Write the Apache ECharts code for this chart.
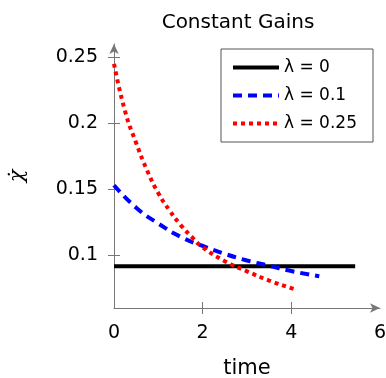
<!DOCTYPE html>
<html>
<head>
<meta charset="utf-8">
<script src="https://cdn.jsdelivr.net/npm/echarts@6/dist/echarts.min.js"></script>
<style>
  html, body { margin: 0; padding: 0; background: #fff; }
  #main { width: 386px; height: 378px; }
</style>
</head>
<body>
<div id="main"></div>
<script>
// values
var xTicks = [0, 2, 4, 6];
var yTicks = [0.1, 0.15, 0.2, 0.25];
var names = ['λ = 0', 'λ = 0.1', 'λ = 0.25'];

var gain0 = [[0, 0.0917], [5.44, 0.0917]];
var gain01 = [[0, 0.153], [0.5, 0.136], [1, 0.124], [1.5, 0.114], [2, 0.107], [2.5, 0.101],
  [3, 0.096], [3.5, 0.092], [4, 0.088], [4.63, 0.084]];
var gain025 = [[0, 0.245], [0.25, 0.209], [0.5, 0.185], [0.75, 0.164], [1, 0.147], [1.25, 0.134],
  [1.5, 0.123], [1.75, 0.114], [2, 0.106], [2.5, 0.0955], [3, 0.0878], [3.5, 0.0808], [4, 0.075], [4.09, 0.074]];

var font = 'DejaVu Sans';
var axisGray = '#777';

var chart = echarts.init(document.getElementById('main'));

var option = {
  animation: false,
  textStyle: { fontFamily: font },
  title: {
    text: 'Constant Gains',
    left: 233, top: 8, textAlign: 'center',
    textStyle: { fontFamily: font, fontSize: 20, fontWeight: 'normal', color: '#000' }
  },
  grid: { left: 114, right: 6, top: 44, bottom: 70, outerBoundsMode: 'none', containLabel: false },
  legend: {
    data: names,
    orient: 'vertical',
    left: 221, top: 49,
    padding: [10, 10, 10, 10],
    itemWidth: 46, itemHeight: 16, itemGap: 11,
    itemStyle: { opacity: 0 },
    lineStyle: { width: 4 },
    textStyle: { fontFamily: font, fontSize: 17, color: '#000' }
  },
  graphic: [{
    type: 'rect',
    shape: { x: 221, y: 49, width: 152, height: 93 },
    style: { fill: 'none', stroke: '#555', lineWidth: 1 },
    z: 100
  }],
  xAxis: [{
    type: 'value', min: 0, max: 6,
    name: 'time', nameLocation: 'middle', nameGap: 50,
    nameTextStyle: { fontFamily: font, fontSize: 21, color: '#000' },
    axisLine: { lineStyle: { color: axisGray, width: 1 }, symbol: ['none', 'arrow'], symbolSize: [7, 10] },
    axisTick: { show: true, length: 6, customValues: [2, 4], lineStyle: { color: axisGray } },
    axisLabel: { customValues: xTicks, fontSize: 19, color: '#000', margin: 16 },
    splitLine: { show: false }
  }, {
    // inner half of the crossing ticks
    type: 'value', min: 0, max: 6, position: 'bottom',
    axisLine: { show: false },
    axisTick: { show: true, inside: true, length: 6, customValues: [2, 4], lineStyle: { color: axisGray } },
    axisLabel: { show: false },
    splitLine: { show: false }
  }],
  yAxis: [{
    type: 'value', min: 0.06, max: 0.26,
    name: 'χ̇', nameLocation: 'middle', nameGap: 86, nameRotate: 90,
    nameTextStyle: { fontFamily: 'DejaVu Serif', fontStyle: 'italic', fontSize: 21, color: '#000' },
    axisLine: { show: true, lineStyle: { color: axisGray, width: 1 }, symbol: ['none', 'arrow'], symbolSize: [7, 10] },
    axisTick: { show: true, length: 6, customValues: yTicks, lineStyle: { color: axisGray } },
    axisLabel: { customValues: yTicks, fontSize: 19, color: '#000', margin: 16,
      formatter: function (v) { return String(Math.round(v * 100) / 100); } },
    splitLine: { show: false }
  }, {
    // inner half of the crossing ticks
    type: 'value', min: 0.06, max: 0.26, position: 'left',
    axisLine: { show: false },
    axisTick: { show: true, inside: true, length: 6, customValues: yTicks, lineStyle: { color: axisGray } },
    axisLabel: { show: false },
    splitLine: { show: false }
  }],
  series: [
    { name: names[0], type: 'line', data: gain0, symbol: 'none', z: 3,
      lineStyle: { color: '#000', width: 4 }, itemStyle: { color: '#000' } },
    { name: names[1], type: 'line', data: gain01, symbol: 'none', smooth: true, z: 4,
      lineStyle: { color: '#0000ff', width: 4, type: [9, 6] }, itemStyle: { color: '#0000ff' } },
    { name: names[2], type: 'line', data: gain025, symbol: 'none', smooth: true, z: 5,
      lineStyle: { color: '#ff0000', width: 4, type: [4, 4] }, itemStyle: { color: '#ff0000' } }
  ]
};

chart.setOption(option);
</script>
</body>
</html>
